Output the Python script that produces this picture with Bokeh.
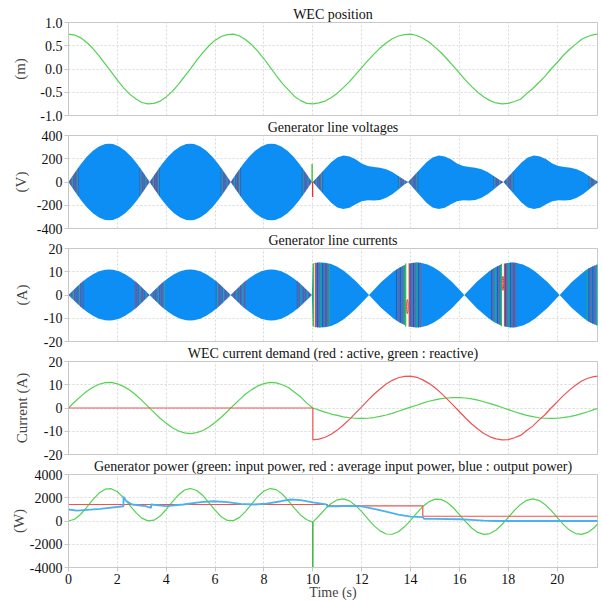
from bokeh.plotting import figure
from bokeh.layouts import column
from bokeh.models import Range1d, FixedTicker, PrintfTickFormatter
from bokeh.embed import file_html
from bokeh.resources import INLINE

# ---------------- data ----------------
x_ticks = [0, 2, 4, 6, 8, 10, 12, 14, 16, 18, 20]

t_fine = [i * 0.25 for i in range(87)] + [21.7]

# WEC position (m)
pos_t = [0] + t_fine
pos_v = [0,
         0.75, 0.73, 0.67, 0.57, 0.44, 0.28, 0.11, -0.06, -0.24, -0.40, -0.54, -0.64,
         -0.72, -0.75, -0.74, -0.69, -0.60, -0.48, -0.33, -0.16, 0.01, 0.19, 0.35, 0.50,
         0.62, 0.70, 0.74, 0.75, 0.71, 0.63, 0.52, 0.38, 0.22, 0.04, -0.14, -0.31,
         -0.45, -0.59, -0.68, -0.74, -0.75,
         -0.73, -0.69, -0.62, -0.52, -0.40, -0.27, -0.12, 0.03, 0.18, 0.32, 0.45, 0.56,
         0.65, 0.71, 0.74, 0.75, 0.72, 0.66, 0.58, 0.47, 0.35, 0.21, 0.06, -0.09,
         -0.24, -0.38, -0.50, -0.60, -0.68, -0.73, -0.75, -0.74, -0.70, -0.65, -0.53,
         -0.42, -0.29, -0.16, 0.00, 0.14, 0.29, 0.42, 0.53, 0.64, 0.70, 0.74, 0.75]

# Generator line voltage envelope, lobes before t=10
va_s = [0, 0.25, 0.5, 0.75, 1.0, 1.25, 1.5, 1.66, 1.82, 2.07, 2.32, 2.57, 2.82, 3.07, 3.32]
va_v = [0, 77, 153, 217, 268, 305, 326, 330, 326, 305, 268, 217, 153, 77, 0]
va_starts = [0, 3.32, 6.64]
# lobes after t=10 (upper and lower magnitude)
vb_s = [0, 0.25, 0.5, 0.75, 1.0, 1.25, 1.5, 1.75, 2.0, 2.25, 2.5, 2.75, 3.0, 3.25, 3.5, 3.75, 3.9]
vb_up = [0, 55, 113, 170, 210, 228, 220, 195, 160, 138, 130, 122, 110, 87, 52, 15, 0]
vb_lo = [0, 60, 120, 178, 220, 232, 222, 192, 165, 158, 160, 155, 135, 105, 65, 22, 0]
vb_starts = [10, 13.9, 17.8]

# voltage fringe stripes near the zero points
vf_off = [0.04, 0.08, 0.12, 0.16, 0.2, 0.24, 0.28, 0.32, 0.36, 0.4]
vf_h_a = [12, 25, 37, 49, 62, 74, 86, 99, 111, 123]
vf_h_rise = [9, 18, 26, 35, 44, 53, 62, 70, 79, 88]
vf_h_fall = [5, 10, 15, 20, 25, 30, 35, 40, 45, 50]

# Generator line current envelope
ca_v = [0, 2.6, 5.1, 7.2, 8.9, 10.2, 10.9, 11.0, 10.9, 10.2, 8.9, 7.2, 5.1, 2.6, 0]
cb0_t = [10, 10.25, 10.5, 10.75, 11, 11.25, 11.5, 11.75, 12.0, 12.3]
cb0_v = [13.4, 14.0, 13.9, 13.3, 12.1, 10.5, 8.4, 6.0, 3.3, 0]
lens_s = [0, 0.25, 0.5, 0.75, 1.0, 1.25, 1.5, 1.75, 1.95, 2.15, 2.4, 2.65, 2.9, 3.15, 3.4, 3.65, 3.9]
lens_v = [0, 2.8, 5.6, 7.9, 10.1, 11.8, 13.1, 13.8, 14.0, 13.8, 13.1, 11.8, 10.1, 7.9, 5.6, 2.8, 0]
lens_starts = [12.3, 16.2]
cb1_t = [20.1, 20.35, 20.6, 20.85, 21.1, 21.35, 21.7]
cb1_v = [0, 2.8, 5.6, 7.9, 10.1, 11.8, 13.4]

cf_off = [0.05, 0.1, 0.15, 0.2, 0.25, 0.3, 0.35, 0.4, 0.45, 0.5, 0.55, 0.6]
cf_h = [0.5, 1.0, 1.6, 2.1, 2.6, 3.1, 3.6, 4.2, 4.7, 5.2, 5.7, 6.2]
cf2_t = [10.12, 10.19, 10.26, 10.33, 10.4, 10.47, 10.54, 10.61, 10.68,
         13.42, 13.5, 13.58, 13.66, 13.74, 13.98, 14.05, 14.12, 14.19, 14.26, 14.33, 14.4,
         17.32, 17.4, 17.48, 17.56, 17.64, 17.88, 17.95, 18.02, 18.09, 18.16, 18.23, 18.3,
         21.22, 21.3, 21.38, 21.46, 21.54, 21.62]
cf2_h = [14.0, 14.0, 14.0, 13.9, 13.7, 13.6, 13.5, 13.3, 13.1,
         10.9, 11.4, 11.9, 12.3, 12.7, 13.5, 13.7, 13.8, 13.9, 14.0, 14.0, 14.0,
         10.9, 11.4, 11.9, 12.3, 12.7, 13.5, 13.7, 13.8, 13.9, 14.0, 14.0, 14.0,
         11.2, 11.6, 12.0, 12.4, 12.8, 13.2]
gap_l = [10.02, 13.8, 17.72]
gap_r = [10.1, 13.94, 17.84]
gap_h = [13.6, 13.6, 13.4]

# WEC current demand (A)
react_v = [0, 2.6, 5.0, 7.2, 8.9, 10.2, 10.9, 11.0, 10.4, 9.3, 7.7, 5.7, 3.3, 0.7,
           -1.9, -4.4, -6.6, -8.5, -9.9, -10.7, -11.0, -10.6, -9.7, -8.2, -6.2, -4.0,
           -1.5, 1.1, 3.6, 6.0, 7.9, 9.5, 10.5, 11.0, 10.8, 10.0, 8.8, 6.8, 4.8, 2.1, 0.0,
           -0.9, -1.8, -2.6, -3.2, -3.8, -4.2, -4.4, -4.5, -4.4, -4.1, -3.6, -3.0, -2.3,
           -1.4, -0.5, 0.4, 1.2, 2.1, 2.9, 3.5, 4.0, 4.3, 4.5, 4.5, 4.3, 3.9, 3.4, 2.7,
           1.9, 1.1, 0.2, -0.7, -1.6, -2.4, -3.2, -3.7, -4.2, -4.4, -4.5, -4.4, -4.1,
           -3.7, -3.2, -2.4, -1.6, -0.7, 0.0]
act_t = [0, 10] + t_fine[40:]
act_v = [0, 0,
         -13.7, -13.4, -12.6, -11.3, -9.5, -7.3, -4.9, -2.2, 0.5, 3.3, 5.9, 8.2, 10.3,
         11.9, 13.0, 13.6, 13.7, 13.2, 12.1, 10.6, 8.7, 6.4, 3.8, 1.1, -1.6, -4.3, -6.9,
         -9.0, -11.0, -12.4, -13.3, -13.7, -13.6, -12.8, -11.8, -9.7, -7.8, -5.2, -2.9,
         0.0, 2.6, 5.3, 7.7, 9.8, 11.6, 12.8, 13.5, 13.7]

# Generator power (W)
pin_v = [0, 150, 580, 1190, 1840, 2400, 2740, 2780, 2520, 2010, 1370, 740, 250, 10,
         70, 420, 990, 1650, 2240, 2670, 2800, 2620, 2190, 1560, 930, 360, 50, 30,
         310, 830, 1480, 2110, 2580, 2790, 2700, 2320, 1740, 1080, 500, 110, -100,
         430, 1030, 1510, 1820, 1900, 1730, 1340, 800, 190, -400, -850, -1120, -1140,
         -920, -500, 60, 680, 1240, 1660, 1880, 1860, 1590, 1140, 550, -60, -600, -980,
         -1150, -1080, -770, -280, 310, 910, 1430, 1780, 1900, 1780, 1430, 910, 310,
         -290, -780, -1080, -1150, -980, -600, -170]
spike_t = [10, 10]
spike_v = [-100, -4300]
pavg_t = [0, 10.6, 10.6, 14.5, 14.5, 21.7]
pavg_v = [1420, 1420, 1300, 1300, 410, 410]
pout_t = [0, 0.35, 1.3, 2.25, 2.25, 2.35, 2.6, 3.15, 3.38, 3.38, 4.0, 4.7, 5.4, 5.95,
          6.5, 7.05, 7.6, 8.1, 8.7, 9.1, 9.5, 10.0, 10.55, 10.6, 11.0, 11.5, 12.0,
          12.5, 13.0, 13.5, 14.0, 14.5, 14.55, 15.0, 16.0, 16.5, 17.0, 17.5, 21.7]
pout_v = [990, 900, 1050, 1270, 2080, 1750, 1420, 1280, 1130, 1420, 1280, 1420, 1620,
          1700, 1620, 1480, 1420, 1500, 1700, 1850, 1790, 1600, 1430, 1250, 1270, 1300,
          1250, 1050, 800, 550, 380, 340, 190, 180, 150, 100, 30, 0, 0]

# ---------------- styling ----------------
FONT = "'Liberation Serif', 'Times New Roman', serif"
GREEN = "#52d352"
RED = "#f05252"
LBLUE = "#4cb2ee"
FILL = "#0c8ef5"
STRIPES = ["#d83a46", "#4a4aa0", "#c83a50", "#3fb86a", "#4a4aa0"]
STRIPES2 = ["#e03a3a", "#3a3f8f", "#e03a3a", "#35b835", "#3a3f8f"]

xr = Range1d(0, 21.65)


def make(title, ylab, yr, yt, fmt, top, bottom, lab_so, margin_top, last=False):
    p = figure(frame_width=529, frame_height=93, x_range=xr, y_range=Range1d(*yr),
               output_backend="svg", toolbar_location=None, title=title,
               min_border_left=68, min_border_right=5,
               min_border_top=top, min_border_bottom=bottom,
               margin=(margin_top, 0, 0, 0))
    p.title.text_font = FONT
    p.title.text_font_size = "14px"
    p.title.text_font_style = "normal"
    p.title.text_color = "#111111"
    p.title.align = "center"
    p.title.standoff = 2
    p.outline_line_color = "#c8c8c8"
    p.background_fill_color = "white"
    p.border_fill_color = None
    p.xgrid.ticker = FixedTicker(ticks=x_ticks)
    p.ygrid.ticker = FixedTicker(ticks=yt)
    for g in (p.xgrid, p.ygrid):
        g.grid_line_color = "#d9d9d9"
        g.grid_line_dash = "2 2"
    ya = p.yaxis[0]
    ya.ticker = FixedTicker(ticks=yt)
    ya.formatter = PrintfTickFormatter(format=fmt)
    ya.axis_label = ylab
    ya.axis_label_text_font = FONT
    ya.axis_label_text_font_size = "15px"
    ya.axis_label_text_font_style = "normal"
    ya.axis_label_standoff = lab_so
    xa = p.xaxis[0]
    xa.ticker = FixedTicker(ticks=x_ticks)
    for ax in (ya, xa):
        ax.axis_line_color = "#c8c8c8"
        ax.major_tick_line_color = "#c8c8c8"
        ax.major_tick_out = 4
        ax.major_tick_in = 0
        ax.minor_tick_out = 0
        ax.minor_tick_in = 0
        ax.major_label_text_font = FONT
        ax.major_label_text_font_size = "14px"
        ax.major_label_text_color = "#111111"
        ax.major_label_standoff = 2
    if last:
        xa.axis_label = "Time (s)"
        xa.axis_label_text_font = FONT
        xa.axis_label_text_font_size = "14px"
        xa.axis_label_text_font_style = "normal"
        xa.axis_label_standoff = -2
    else:
        xa.visible = False
    return p


def stripes(p, zeros_right, zeros_left, offs, hs, cols, lw=0.8, alpha=0.7):
    xs, hh = [], []
    for z in zeros_right:
        for o, h in zip(offs, hs):
            xs.append(z + o)
            hh.append(h)
    for z in zeros_left:
        for o, h in zip(offs, hs):
            xs.append(z - o)
            hh.append(h)
    cs = [cols[i % len(cols)] for i in range(len(xs))]
    p.segment(x0=xs, y0=[-h for h in hh], x1=xs, y1=hh, line_color=cs,
              line_width=lw, line_alpha=alpha)


# Panel 1 : WEC position
p1 = make("WEC position", "(m)", (-1, 1), [-1, -0.5, 0, 0.5, 1], "%.1f", 22, 9, 9, 0)
p1.line(pos_t, pos_v, line_color=GREEN, line_width=1.2)

# Panel 2 : line voltages
p2 = make("Generator line voltages", "(V)", (-400, 400), [-400, -200, 0, 200, 400],
          "%d", 20, 9, 5, -9)
vx, vu, vl = [], [], []
for st in va_starts:
    vx += [st + s for s in va_s]
    vu += va_v
    vl += [-v for v in va_v]
for st in vb_starts:
    vx += [st + s for s in vb_s]
    vu += vb_up
    vl += [-v for v in vb_lo]
p2.varea(x=vx, y1=vl, y2=vu, fill_color=FILL)
stripes(p2, [0, 3.32, 6.64], [3.32, 6.64, 9.96], vf_off, vf_h_a, STRIPES)
stripes(p2, [10, 13.9, 17.8], [], vf_off, vf_h_rise, STRIPES)
stripes(p2, [], [13.9, 17.8, 21.7], vf_off, vf_h_fall, STRIPES)
p2.segment(x0=[9.97], y0=[0], x1=[9.97], y1=[155], line_color="#2cbf2c", line_width=1.3)
p2.segment(x0=[9.99], y0=[0], x1=[9.99], y1=[-130], line_color="#e03030", line_width=1.3)

# Panel 3 : line currents
p3 = make("Generator line currents", "(A)", (-20, 20), [-20, -10, 0, 10, 20], "%d",
          20, 9, 11, -9)
cx, cv = [], []
for st in va_starts:
    cx += [st + s for s in va_s]
    cv += ca_v
cx += cb0_t
cv += cb0_v
for st in lens_starts:
    cx += [st + s for s in lens_s]
    cv += lens_v
cx += cb1_t
cv += cb1_v
p3.varea(x=cx, y1=[-v for v in cv], y2=cv, fill_color=FILL)
stripes(p3, [0, 3.32, 6.64], [3.32, 6.64, 9.96], cf_off, cf_h, STRIPES)
cs2 = [STRIPES2[i % len(STRIPES2)] for i in range(len(cf2_t))]
p3.segment(x0=cf2_t, y0=[-h for h in cf2_h], x1=cf2_t, y1=cf2_h, line_color=cs2,
           line_width=1.0, line_alpha=0.7)
p3.quad(left=gap_l, right=gap_r, bottom=[-h for h in gap_h], top=gap_h,
        fill_color="white", line_color=None)
p3.segment(x0=gap_l, y0=[-h for h in gap_h], x1=gap_l, y1=gap_h,
           line_color="#35c035", line_width=1.2)
p3.segment(x0=gap_r, y0=[-h for h in gap_h], x1=gap_r, y1=gap_h,
           line_color="#e03a3a", line_width=1.0)
p3.ellipse(x=[13.87, 17.78], y=[-5, 5], width=0.06, height=[6, 6],
           fill_color=None, line_color="#e03a3a", line_width=1)

# Panel 4 : WEC current demand
p4 = make("WEC current demand (red : active, green : reactive)", "Current (A)",
          (-20, 20), [-20, -10, 0, 10, 20], "%d", 20, 9, 11, -9)
p4.line(t_fine, react_v, line_color=GREEN, line_width=1.2)
p4.line(act_t, act_v, line_color=RED, line_width=1.2)

# Panel 5 : generator power
p5 = make("Generator power (green: input power, red : average input power, blue : output power)",
          "(W)", (-4000, 4000), [-4000, -2000, 0, 2000, 4000], "%d", 20, 34, 0, -9,
          last=True)
p5.line(t_fine, pin_v, line_color=GREEN, line_width=1.2)
p5.line(spike_t, spike_v, line_color="#22aa22", line_width=1.3)
p5.line(pavg_t, pavg_v, line_color=RED, line_width=1.2)
p5.line(pout_t, pout_v, line_color=LBLUE, line_width=1.8)

layout = column(p1, p2, p3, p4, p5, spacing=0)
open("out.html", "w").write(file_html(layout, INLINE))
